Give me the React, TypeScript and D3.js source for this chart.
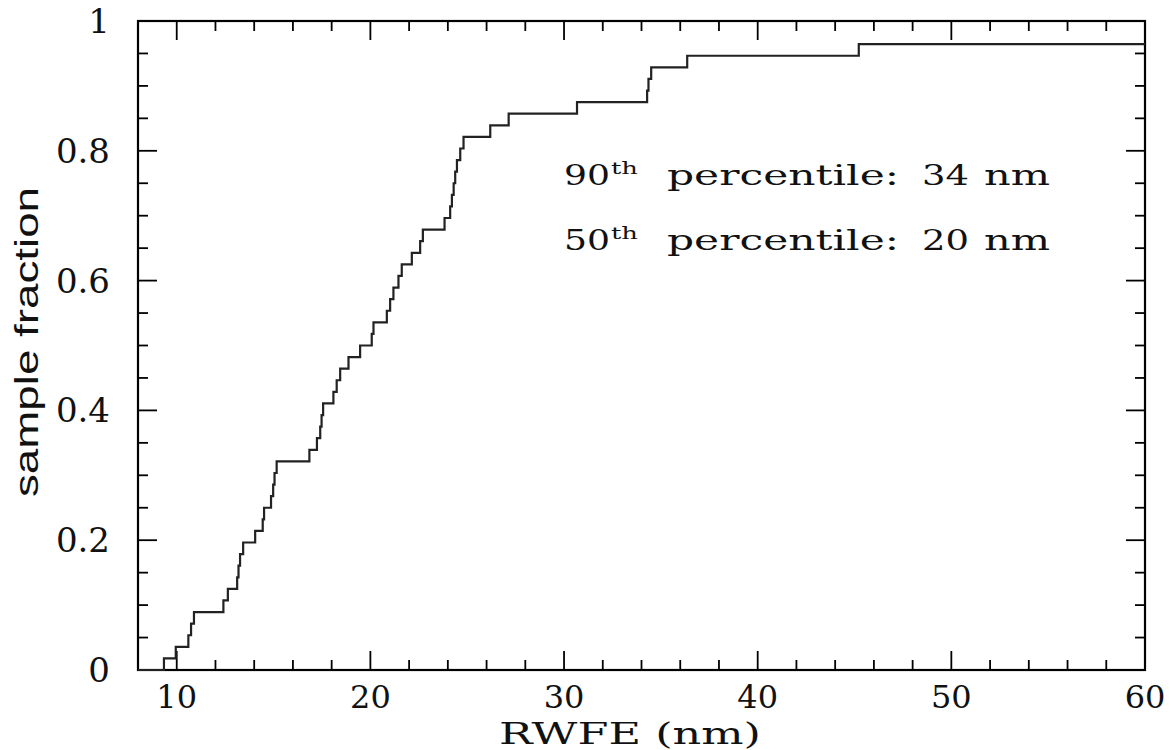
import React from "react";
import * as d3 from "d3";

// Sorted RWFE values (nm)
const rwfeSamples = [
  9.34, 9.95, 10.6, 10.74, 10.89, 12.41, 12.64, 13.12, 13.19, 13.27,
  13.43, 14.05, 14.44, 14.51, 14.87, 14.98, 15.05, 15.16, 16.85, 17.24,
  17.41, 17.48, 17.56, 18.09, 18.26, 18.44, 18.87, 19.47, 20.07, 20.16,
  20.85, 21.02, 21.19, 21.45, 21.62, 22.14, 22.57, 22.71, 23.83, 24.12,
  24.21, 24.3, 24.38, 24.47, 24.64, 24.81, 26.19, 27.14, 30.67, 34.29,
  34.36, 34.5, 36.36, 45.22,
];
const totalSamples = 56;

const xDomain = [8, 60];
const yDomain = [0, 1];
const xMajorTicks = [10, 20, 30, 40, 50, 60];
const xMinorTicks = d3.range(10, 60, 2).filter((v) => v % 10 !== 0);
const yMajorTicks = [0, 0.2, 0.4, 0.6, 0.8, 1];
const yMinorTicks = d3.range(1, 20).map((i) => i * 0.05).filter((_, i) => (i + 1) % 4 !== 0);
const yTickLabels = ["0", "0.2", "0.4", "0.6", "0.8", "1"];

const annotations = [
  { num: "90", sup: "th", text: "percentile:", value: "34", unit: "nm" },
  { num: "50", sup: "th", text: "percentile:", value: "20", unit: "nm" },
];

export default function App() {
  const W = 1173;
  const H = 750;
  const left = 138;
  const right = 1145;
  const top = 21;
  const bottom = 670;

  const x = d3.scaleLinear().domain(xDomain).range([left, right]);
  const y = d3.scaleLinear().domain(yDomain).range([bottom, top]);

  const pts: [number, number][] = [[xDomain[0], 0]];
  rwfeSamples.forEach((v, i) => pts.push([v, (i + 1) / totalSamples]));
  pts.push([xDomain[1], rwfeSamples.length / totalSamples]);

  const line = d3
    .line<[number, number]>()
    .x((d) => x(d[0]))
    .y((d) => y(d[1]))
    .curve(d3.curveStepAfter);

  const majorLen = 19;
  const minorLen = 10;
  const tickStroke = "#000";

  const serif = "'DejaVu Serif', serif";

  return (
    <div style={{ position: "absolute", left: 0, top: 0 }}>
      <svg width={W} height={H} style={{ display: "block", background: "#fff" }}>
        {/* ticks bottom & top */}
        {xMajorTicks.concat(xMinorTicks).map((t) => {
          const len = xMajorTicks.includes(t) ? majorLen : minorLen;
          return (
            <g key={"xt" + t}>
              <line x1={x(t)} x2={x(t)} y1={bottom} y2={bottom - len} stroke={tickStroke} strokeWidth={1.8} />
              <line x1={x(t)} x2={x(t)} y1={top} y2={top + len} stroke={tickStroke} strokeWidth={1.8} />
            </g>
          );
        })}
        {/* ticks left & right */}
        {yMajorTicks.concat(yMinorTicks).map((t) => {
          const len = yMajorTicks.some((m) => Math.abs(m - t) < 1e-9) ? majorLen : minorLen;
          return (
            <g key={"yt" + t}>
              <line x1={left} x2={left + len} y1={y(t)} y2={y(t)} stroke={tickStroke} strokeWidth={1.8} />
              <line x1={right} x2={right - len} y1={y(t)} y2={y(t)} stroke={tickStroke} strokeWidth={1.8} />
            </g>
          );
        })}
        {/* frame */}
        <rect x={left} y={top} width={right - left} height={bottom - top} fill="none" stroke="#000" strokeWidth={2.2} />

        {/* step curve */}
        <path d={line(pts) || ""} fill="none" stroke="#222" strokeWidth={2.2} />

        {/* x tick labels */}
        {xMajorTicks.map((t) => (
          <text key={"xl" + t} x={x(t)} y={708} textAnchor="middle" fontFamily={serif} fontSize={32} fill="#111">
            {t}
          </text>
        ))}
        {/* y tick labels */}
        {yMajorTicks.map((t, i) => (
          <text key={"yl" + t} x={110} y={y(t) + 12} textAnchor="end" fontFamily={serif} fontSize={34} fill="#111">
            {yTickLabels[i]}
          </text>
        ))}

        {/* axis titles */}
        <text x={630} y={744} textAnchor="middle" fontFamily={serif} fontSize={29} fill="#111" textLength={262} lengthAdjust="spacingAndGlyphs">
          RWFE (nm)
        </text>
        <text transform="translate(38,342) rotate(-90)" textAnchor="middle" fontFamily="'Liberation Sans', sans-serif" fontSize={33} fill="#111" textLength={310} lengthAdjust="spacingAndGlyphs">
          sample fraction
        </text>

        {/* annotations */}
        {annotations.map((a, i) => {
          const base = 185 + i * 65;
          return (
            <g key={"an" + i} fontFamily={serif} fill="#111">
              <text x={564} y={base} fontSize={28} textLength={46} lengthAdjust="spacingAndGlyphs">{a.num}</text>
              <text x={611} y={base - 11} fontSize={17} textLength={27} lengthAdjust="spacingAndGlyphs">{a.sup}</text>
              <text x={667} y={base} fontSize={28} textLength={232} lengthAdjust="spacingAndGlyphs">{a.text}</text>
              <text x={922} y={base} fontSize={28} textLength={47} lengthAdjust="spacingAndGlyphs">{a.value}</text>
              <text x={984} y={base} fontSize={28} textLength={66} lengthAdjust="spacingAndGlyphs">{a.unit}</text>
            </g>
          );
        })}
      </svg>
    </div>
  );
}
